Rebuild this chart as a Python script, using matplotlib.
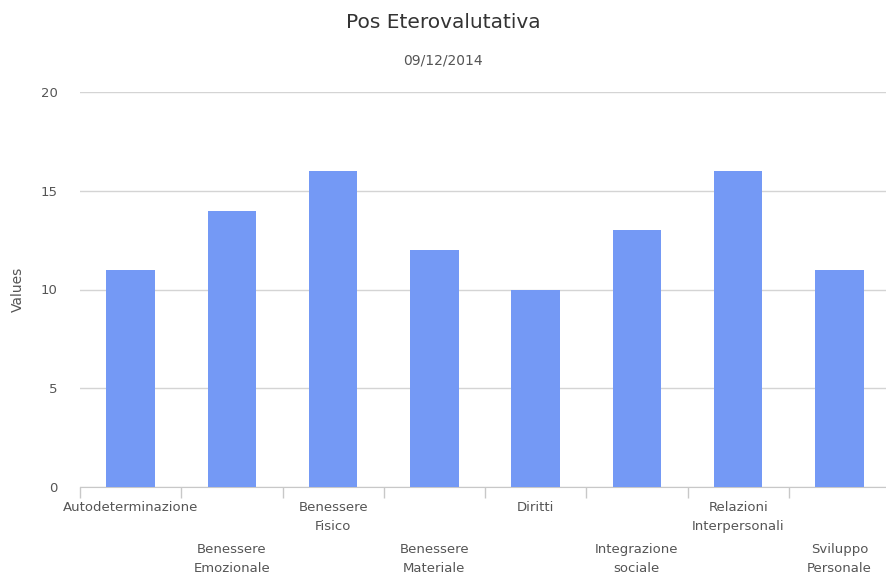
import matplotlib
matplotlib.use("Agg")
import matplotlib.pyplot as plt
import numpy as np
from matplotlib.transforms import blended_transform_factory

categories = [
    "Autodeterminazione",
    "Benessere\nEmozionale",
    "Benessere\nFisico",
    "Benessere\nMateriale",
    "Diritti",
    "Integrazione\nsociale",
    "Relazioni\nInterpersonali",
    "Sviluppo\nPersonale",
]
values = [11, 14, 16, 12, 10, 13, 16, 11]
y_ticks = [0, 5, 10, 15, 20]

plt.rcParams["font.family"] = ["DejaVu Sans"]

fig = plt.figure(figsize=(8.86, 5.79), dpi=100)
fig.patch.set_facecolor("white")
ax = fig.add_axes([80 / 886, 1 - 487 / 579, 810 / 886, (487 - 92) / 579])

x = np.arange(len(categories))
ax.bar(x, values, width=0.48, color="#7499F5", zorder=3)

ax.set_xlim(-0.5, len(categories) - 0.5)
ax.set_ylim(0, 20)
ax.set_yticks(y_ticks)
ax.set_yticklabels([str(v) for v in y_ticks], color="#555555", fontsize=9.5)
ax.yaxis.grid(True, color="#d4d4d4", linewidth=1.0, zorder=0)
ax.tick_params(axis="y", length=0, pad=16)

# category boundary ticks on the x axis
ax.set_xticks(x)
ax.set_xticklabels([])
ax.tick_params(axis="x", which="major", length=0)
ax.set_xticks(np.arange(-0.5, len(categories), 1), minor=True)
ax.tick_params(axis="x", which="minor", length=8, color="#c8c8c8", width=1)

for side in ["top", "right", "left"]:
    ax.spines[side].set_visible(False)
ax.spines["bottom"].set_color("#c8c8c8")

# staggered category labels
trans = blended_transform_factory(ax.transData, fig.transFigure)
for i, label in enumerate(categories):
    ytop = 1 - 501 / 579 if i % 2 == 0 else 1 - 543 / 579
    ax.text(i, ytop, label, transform=trans, ha="center", va="top",
            fontsize=9.5, color="#555555", linespacing=1.6)

ax.set_ylabel("Values", color="#555555", fontsize=10)
ax.yaxis.set_label_coords(-55 / 810, 0.5)

fig.text(0.5, 1 - 22 / 579, "Pos Eterovalutativa", ha="center", va="center",
         fontsize=14.5, color="#333333")
fig.text(0.5, 1 - 60 / 579, "09/12/2014", ha="center", va="center",
         fontsize=10, color="#555555")

fig.savefig("out.png", dpi=100, facecolor="white")
